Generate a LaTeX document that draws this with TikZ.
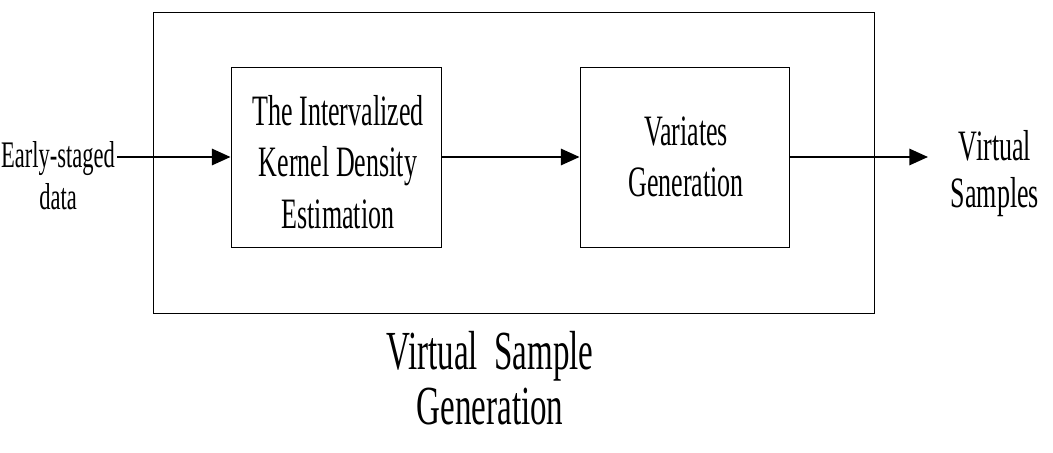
\documentclass[tikz,border=0pt]{standalone}
\usepackage{fontspec}
\setmainfont[FakeStretch=0.6]{Liberation Serif}
\usetikzlibrary{arrows.meta}
\begin{document}
\begin{tikzpicture}[x=0.03cm,y=-0.03cm,
  blk/.style={draw,line width=0.8pt,inner sep=0pt},
  arr/.style={line width=1.8pt,-{Triangle[length=16pt,width=14pt]}},
  lbl/.style={align=center,font=\fontsize{37}{40}\selectfont}]
\path[use as bounding box] (0,0) rectangle (1053,453);
\node[blk,minimum width=721*0.03cm,minimum height=301*0.03cm] (outer) at (513.5,162.5) {};
\node[blk,minimum width=210*0.03cm,minimum height=180*0.03cm] (b1) at (336,157) {};
\node[blk,minimum width=209*0.03cm,minimum height=180*0.03cm] (b2) at (684.5,157) {};
\node[lbl,font=\fontsize{37}{44}\selectfont] (t1) at (338,162) {The Intervalized\\Kernel Density\\Estimation};
\node[lbl,font=\fontsize{37}{44}\selectfont] (t2) at (686,157) {Variates\\Generation};
\node[lbl,font=\fontsize{32}{36}\selectfont,inner sep=0pt] (in) at (58,176) {Early-staged\\data};
\node[lbl] (out) at (995,174) {Virtual\\Samples};
\node[lbl,font=\fontsize{47}{47}\selectfont] (vsg) at (490,378) {Virtual\ \ Sample\\Generation};
\coordinate (s) at (117,157);
\coordinate (e) at (928,157);
\draw[arr] (s) -- (b1.west);
\draw[arr] (b1.east) -- (b2.west);
\draw[arr] (b2.east) -- (e);
\end{tikzpicture}
\end{document}
